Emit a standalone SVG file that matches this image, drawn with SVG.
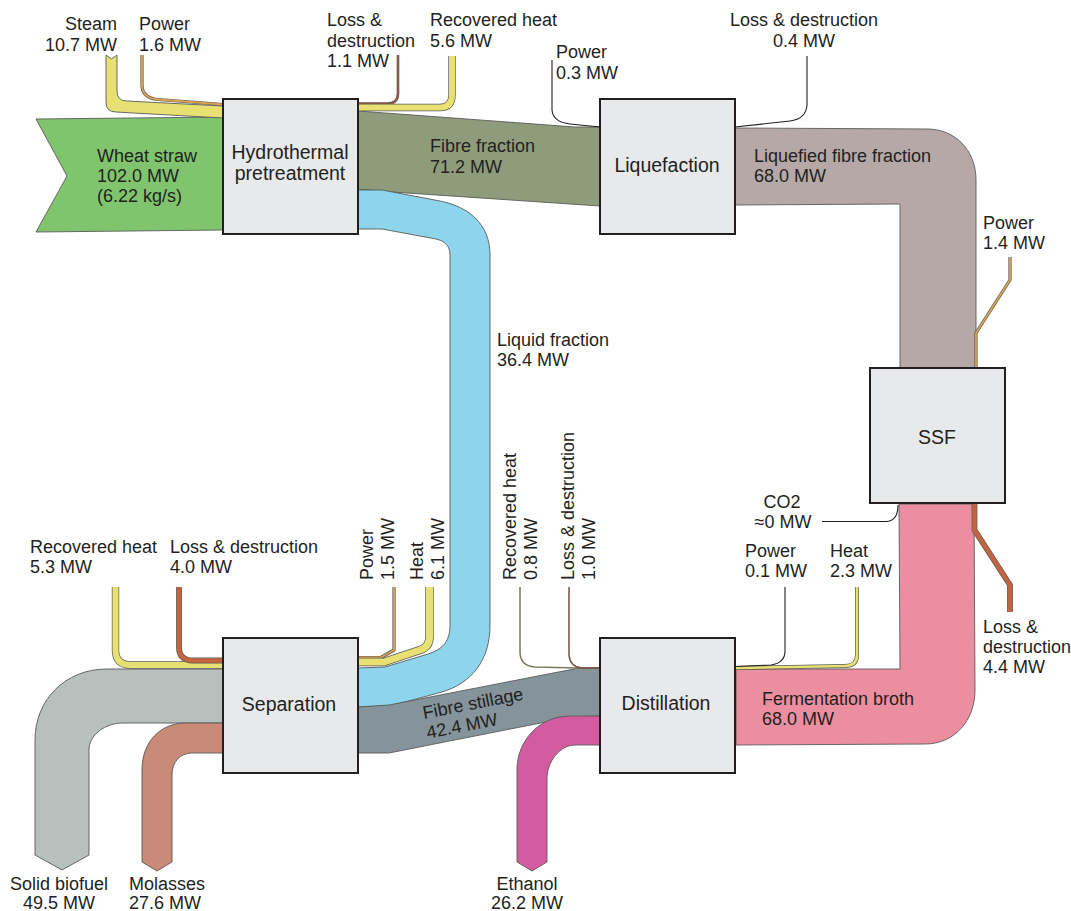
<svg xmlns="http://www.w3.org/2000/svg" width="1071" height="911" viewBox="0 0 1071 911">
  <style>
    .band { stroke: #5a5a5a; stroke-width: 0.9; stroke-linejoin: round; }
    .box rect { fill: #e8e9eb; stroke: #231f20; stroke-width: 2; }
    .box text { font-family: "Liberation Sans", Arial, sans-serif; font-size: 19.5px; fill: #231f20; text-anchor: middle; }
    .lbl { font-family: "Liberation Sans", Arial, sans-serif; font-size: 18px; fill: #231f20; }
    .mid { text-anchor: middle; }
    .end { text-anchor: end; }
    .edge { fill: none; stroke-linecap: butt; stroke-linejoin: round; }
    .out { stroke: #5a5a5a; }
    .heat { stroke: #e8e073; }
    .pow { stroke: #d9a452; }
    .loss { stroke: #c2643e; }
    .blk { stroke: #231f20; stroke-width: 1.1; }
  </style>

  <g id="connectors">
    <!-- main material streams -->
    <path id="wheat-straw" class="band" fill="#80c56e" d="M36,119 L223,117 L223,230 L36,232 L67,176 Z"/>
    <path id="steam" class="band" fill="#e8e073" d="M106,55 L111.5,59 L117,55 L117,91 Q117,101 127,101 L223,106 L223,118 L116,112 Q106,112 106,102 Z"/>
    <path id="fibre-fraction" class="band" fill="#8f9c7b" d="M358,111 L575,127 L600,127 L600,206 L392,192 L358,189 Z"/>
    <path id="liquid-fraction" class="band" fill="#8dd5ec" d="M358,190 L382,190 L440,201 C470,207 490,225 490,255 L490,625 C490,660 472,683 442,692 L390,706 L358,707 L358,668 L385,667 L428,654 C444,649 450,640 450,625 L450,255 C450,246 445,241 436,239 L382,229 L358,229 Z"/>
    <path id="liquefied-fibre" class="band" fill="#b6a8a6" d="M735,128 L927,129 C955,129 976,150 976,180 L976,368 L900,368 L900,204 L735,205 Z"/>
    <path id="fermentation-broth" class="band" fill="#eb8fa0" d="M899,504 L974,504 L975,690 C975,720 955,744 925,744 L736,745 L736,669 L900,669 Z"/>
    <path id="fibre-stillage" class="band" fill="#85939a" d="M358,707 L389,705 L579,668 L600,668 L600,716 L571,717 L389,753 L358,753 Z"/>
    <path id="solid-biofuel" class="band" fill="#b7c0bd" d="M223,669 L107,669 C65,669 35,700 35,740 L35,855 L62,870 L89,855 L89,750 C89,735 105,723 123,723 L223,723 Z"/>
    <path id="molasses" class="band" fill="#c98a78" d="M223,723 L186,723 C160,723 142,742 142,770 L142,862 L157,871 L172,862 L172,775 C172,762 180,753 192,753 L223,753 Z"/>
    <path id="ethanol" class="band" fill="#d35ca0" d="M600,716 L570,716 C540,716 517,740 517,770 L517,862 L532,871 L547,862 L547,778 C547,762 560,745 575,745 L600,745 Z"/>

    <!-- utility and loss streams: dark outline under a coloured core -->
    <path class="edge out" stroke-width="3.2" d="M142,55 V85 Q142,98 158,99.5 L223,104.5"/>
    <path class="edge pow" stroke-width="1.8" d="M142,55 V85 Q142,98 158,99.5 L223,104.5"/>

    <path class="edge out" stroke-width="2.6" d="M358,103.5 H388 Q398,103.5 398,93 V55"/>
    <path class="edge" stroke="#9a5a40" stroke-width="1.4" d="M358,103.5 H388 Q398,103.5 398,93 V55"/>

    <path class="edge out" stroke-width="7.4" d="M358,107.5 H440 Q452,107.5 452,95 V56"/>
    <path class="edge heat" stroke-width="6" d="M358,107.5 H440 Q452,107.5 452,95 V56"/>

    <path class="edge blk" d="M552,60 V110 Q553,122 570,124 L600,127"/>
    <path class="edge blk" d="M735,127 L790,121 Q806,119 807,105 V56"/>

    <path class="edge out" stroke-width="3.2" d="M1010,257 V280 L976,333 V368"/>
    <path class="edge pow" stroke-width="1.8" d="M1010,257 V280 L976,333 V368"/>

    <path class="edge blk" d="M822,521.5 H886 Q898,521 898,505"/>

    <path class="edge out" stroke-width="5.8" d="M974.5,504 V530 L1010,585 V612"/>
    <path class="edge loss" stroke-width="4.4" d="M974.5,504 V530 L1010,585 V612"/>

    <path class="edge out" stroke-width="7.4" d="M115.5,587 V650 Q115.5,665 131,665 H223"/>
    <path class="edge heat" stroke-width="6" d="M115.5,587 V650 Q115.5,665 131,665 H223"/>

    <path class="edge out" stroke-width="5.8" d="M179,587 V647 Q179,660.5 193,660.5 H223"/>
    <path class="edge loss" stroke-width="4.4" d="M179,587 V647 Q179,660.5 193,660.5 H223"/>

    <path class="edge out" stroke-width="3.2" d="M394,587 V650 L381,657.5 H358"/>
    <path class="edge pow" stroke-width="1.8" d="M394,587 V650 L381,657.5 H358"/>

    <path class="edge out" stroke-width="8.4" d="M429.5,587 V637 Q429.5,647 420,650 L384,662 H358"/>
    <path class="edge heat" stroke-width="7" d="M429.5,587 V637 Q429.5,647 420,650 L384,662 H358"/>

    <path class="edge" stroke="#7d7a5e" stroke-width="1.5" d="M520,587 V652 Q520,666 535,667 L578,668 H600"/>
    <path class="edge" stroke="#7a5040" stroke-width="1.5" d="M569,587 V655 Q570,667 582,668 H600"/>

    <path class="edge out" stroke-width="4" d="M857,587 V655 Q857,666 845,666 L736,668"/>
    <path class="edge heat" stroke-width="2.6" d="M857,587 V655 Q857,666 845,666 L736,668"/>
    <path class="edge blk" d="M785,587 V651 Q785,663 771,665 L736,666.5"/>
  </g>

  <g id="node-hydrothermal" class="box">
    <rect x="223" y="99" width="135" height="135"/>
    <text x="290" y="158.5">Hydrothermal</text>
    <text x="290" y="180">pretreatment</text>
  </g>
  <g id="node-liquefaction" class="box">
    <rect x="600" y="99" width="135" height="135"/>
    <text x="667" y="172">Liquefaction</text>
  </g>
  <g id="node-ssf" class="box">
    <rect x="870" y="368" width="135" height="135"/>
    <text x="937" y="444">SSF</text>
  </g>
  <g id="node-separation" class="box">
    <rect x="223" y="638" width="135" height="135"/>
    <text x="289" y="711">Separation</text>
  </g>
  <g id="node-distillation" class="box">
    <rect x="600" y="638" width="135" height="135"/>
    <text x="666" y="710">Distillation</text>
  </g>

  <g id="labels" class="lbl">
    <text class="end" x="117" y="29.5">Steam</text>
    <text class="end" x="117" y="50.5">10.7 MW</text>
    <text x="139" y="29.5">Power</text>
    <text x="139" y="50.5">1.6 MW</text>
    <text x="327" y="25.5">Loss &amp;</text>
    <text x="327" y="46.5">destruction</text>
    <text x="327" y="67">1.1 MW</text>
    <text x="430" y="25.5">Recovered heat</text>
    <text x="430" y="46.5">5.6 MW</text>
    <text class="mid" x="804" y="25.5">Loss &amp; destruction</text>
    <text class="mid" x="804" y="46.5">0.4 MW</text>
    <text x="556" y="57.5">Power</text>
    <text x="556" y="78.5">0.3 MW</text>
    <text x="97" y="161.5">Wheat straw</text>
    <text x="97" y="181.5">102.0 MW</text>
    <text x="97" y="202">(6.22 kg/s)</text>
    <text x="430" y="151.5">Fibre fraction</text>
    <text x="430" y="172.5">71.2 MW</text>
    <text x="754" y="161.5">Liquefied fibre fraction</text>
    <text x="754" y="181.5">68.0 MW</text>
    <text x="983" y="228.5">Power</text>
    <text x="983" y="248.5">1.4 MW</text>
    <text x="497" y="345.5">Liquid fraction</text>
    <text x="497" y="365.5">36.4 MW</text>
    <text class="mid" x="782" y="507.5">CO2</text>
    <text class="mid" x="783" y="527.5">≈0 MW</text>
    <text x="30" y="552.5">Recovered heat</text>
    <text x="30" y="572.5">5.3 MW</text>
    <text x="170" y="552.5">Loss &amp; destruction</text>
    <text x="170" y="572.5">4.0 MW</text>
    <text transform="translate(372.5,580) rotate(-90)">Power</text>
    <text transform="translate(394,580) rotate(-90)">1.5 MW</text>
    <text transform="translate(422.5,580) rotate(-90)">Heat</text>
    <text transform="translate(443.5,580) rotate(-90)">6.1 MW</text>
    <text transform="translate(515.5,580) rotate(-90)">Recovered heat</text>
    <text transform="translate(536.5,580) rotate(-90)">0.8 MW</text>
    <text transform="translate(573.5,580) rotate(-90)">Loss &amp; destruction</text>
    <text transform="translate(594.5,580) rotate(-90)">1.0 MW</text>
    <text x="745" y="556.5">Power</text>
    <text x="745" y="576.5">0.1 MW</text>
    <text x="830" y="556.5">Heat</text>
    <text x="830" y="576.5">2.3 MW</text>
    <text x="983" y="632.5">Loss &amp;</text>
    <text x="983" y="652.5">destruction</text>
    <text x="983" y="672.5">4.4 MW</text>
    <text x="762" y="704.5">Fermentation broth</text>
    <text x="762" y="724.5">68.0 MW</text>
    <g transform="translate(424,719) rotate(-11)">
      <text x="0" y="0">Fibre stillage</text>
      <text x="0" y="20">42.4 MW</text>
    </g>
    <text class="mid" x="59" y="889.5">Solid biofuel</text>
    <text class="mid" x="59" y="908.5">49.5 MW</text>
    <text x="129" y="889.5">Molasses</text>
    <text x="129" y="908.5">27.6 MW</text>
    <text class="mid" x="527" y="889.5">Ethanol</text>
    <text class="mid" x="527" y="908.5">26.2 MW</text>
  </g>
</svg>
